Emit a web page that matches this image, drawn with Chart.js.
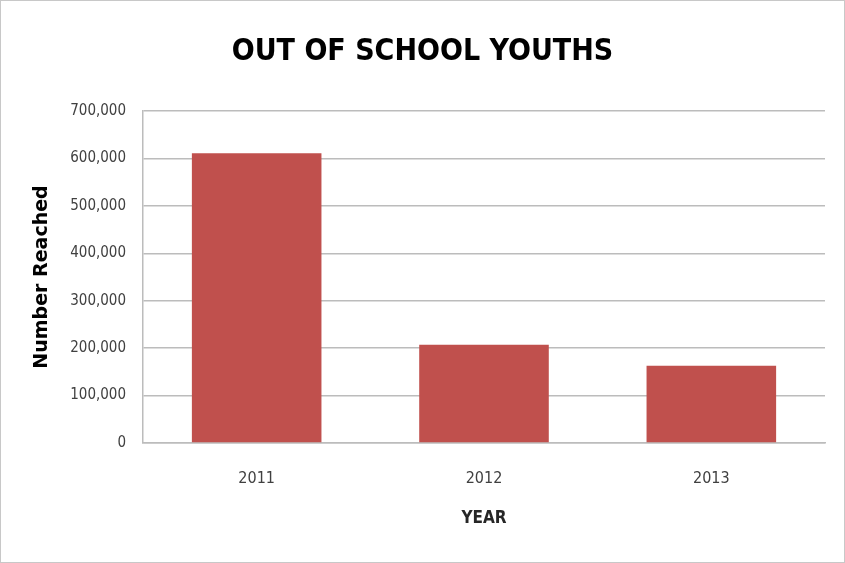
<!DOCTYPE html>
<html>
<head>
<meta charset="utf-8">
<script src="https://cdn.jsdelivr.net/npm/chart.js@4"></script>
<style>
  html, body { margin: 0; padding: 0; background: #fff; }
  #wrap { position: relative; width: 845px; height: 563px; box-sizing: border-box; border: 1px solid #c8c8c8; }
  canvas { display: block; }
</style>
</head>
<body>
<div id="wrap"><canvas id="chart" width="843" height="561"></canvas></div>
<script>
// Out of school youths reached per year
const years = ['2011', '2012', '2013'];
const reached = [611000, 207000, 163000];
const yTicks = { min: 0, max: 700000, step: 100000 };

const FONT = '"DejaVu Sans Condensed", "Liberation Sans Narrow", Arial, sans-serif';
const gridColor = '#bcbcbc';

const ctx = document.getElementById('chart').getContext('2d');

new Chart(ctx, {
  type: 'bar',
  data: {
    labels: years,
    datasets: [{
      label: 'Number Reached',
      data: reached,
      backgroundColor: '#c0504d',
      borderWidth: 0,
      barPercentage: 1,
      categoryPercentage: 0.57
    }]
  },
  options: {
    responsive: false,
    animation: false,
    layout: { padding: { left: 19, right: 19, top: 0, bottom: 19 } },
    plugins: {
      legend: { display: false },
      tooltip: { enabled: false },
      title: {
        display: true,
        text: 'OUT OF SCHOOL YOUTHS',
        color: '#000',
        font: { family: FONT, size: 30, weight: 'bold' },
        padding: { top: 33, bottom: 41 }
      }
    },
    scales: {
      x: {
        grid: { display: false, drawTicks: false },
        border: { display: true, color: gridColor, width: 1.5 },
        ticks: { color: '#404040', font: { family: FONT, size: 16 }, padding: 26 },
        title: {
          display: true,
          text: 'YEAR',
          color: '#262626',
          font: { family: FONT, size: 17, weight: 'bold' },
          padding: { top: 0, bottom: 14 }
        },
        afterFit: s => { s.height = 100; }
      },
      y: {
        min: yTicks.min,
        max: yTicks.max,
        grid: { color: gridColor, lineWidth: 1.5, drawTicks: false },
        border: { display: true, color: gridColor, width: 1.5 },
        ticks: {
          stepSize: yTicks.step,
          color: '#404040',
          font: { family: FONT, size: 15 },
          padding: 17,
          callback: v => v.toLocaleString('en-US')
        },
        title: {
          display: true,
          text: 'Number Reached',
          color: '#000',
          font: { family: '"DejaVu Sans", sans-serif', size: 19, weight: 'bold' },
          padding: { top: 11, bottom: 0 }
        },
        afterFit: s => { s.width = 123; }
      }
    }
  }
});
</script>
</body>
</html>
